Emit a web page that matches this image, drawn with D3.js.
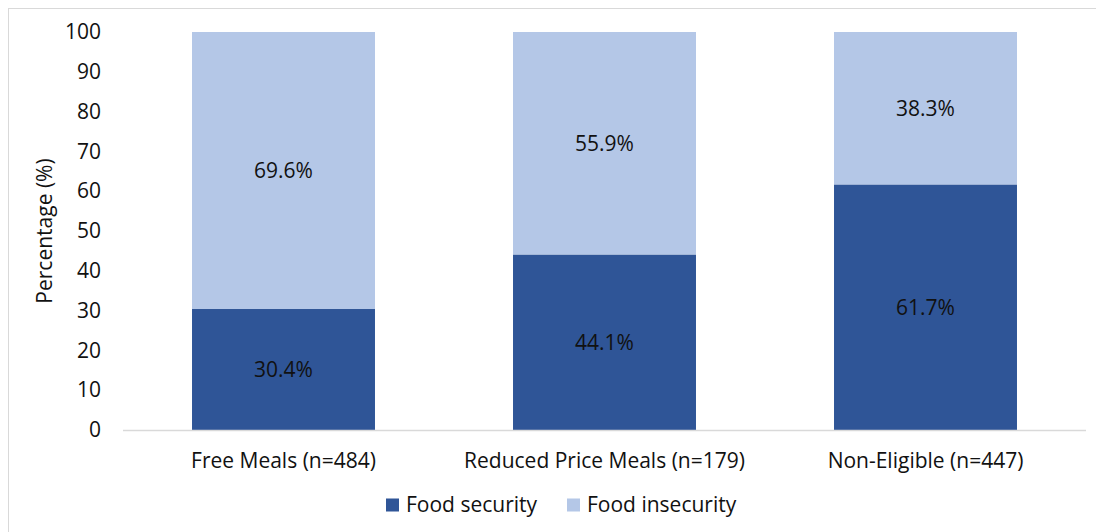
<!DOCTYPE html>
<html>
<head>
<meta charset="utf-8">
<script src="https://cdn.jsdelivr.net/npm/d3@7"></script>
<style>
  body { margin: 0; background: #fff; }
  svg text { font-family: "Open Sans", sans-serif; fill: #111; }
</style>
</head>
<body>
<div id="main-frame"></div>
<script>
const categories = ["Free Meals (n=484)", "Reduced Price Meals (n=179)", "Non-Eligible (n=447)"];
const seriesNames = ["Food security", "Food insecurity"];
const foodSecurity = [30.4, 44.1, 61.7];
const foodInsecurity = [69.6, 55.9, 38.3];
const yTicks = [0, 10, 20, 30, 40, 50, 60, 70, 80, 90, 100];
const colors = ["#2F5597", "#B4C7E7"];

const W = 1096, H = 532;
const margin = { top: 32, right: 10, bottom: 102, left: 123 };
const font = "'Open Sans', sans-serif";
const fs = "21px";

const svg = d3.select("#main-frame")
  .append("svg")
  .attr("width", W)
  .attr("height", H);

// outer chart border
svg.append("rect")
  .attr("x", 8.5).attr("y", 8.5)
  .attr("width", W + 20).attr("height", H + 20)
  .attr("fill", "none")
  .attr("stroke", "#d9d9d9");

const xScale = d3.scaleBand()
  .domain(categories)
  .range([margin.left, margin.left + 963])
  .paddingInner(0.43)
  .paddingOuter(0.215);

const yScale = d3.scaleLinear()
  .domain([0, 100])
  .range([H - margin.bottom, margin.top]);

const rows = categories.map((c, i) => ({ cat: c, "Food security": foodSecurity[i], "Food insecurity": foodInsecurity[i] }));
const stacked = d3.stack().keys(seriesNames)(rows);

const layers = svg.selectAll("g.layer")
  .data(stacked)
  .enter()
  .append("g")
  .attr("class", "layer")
  .attr("fill", (d, i) => colors[i]);

layers.selectAll("rect")
  .data(d => d)
  .enter()
  .append("rect")
  .attr("x", d => xScale(d.data.cat))
  .attr("y", d => yScale(d[1]))
  .attr("width", xScale.bandwidth())
  .attr("height", d => yScale(d[0]) - yScale(d[1]));

layers.selectAll("text")
  .data(d => d)
  .enter()
  .append("text")
  .attr("x", d => xScale(d.data.cat) + xScale.bandwidth() / 2)
  .attr("y", d => yScale((d[0] + d[1]) / 2))
  .attr("dy", "0.35em")
  .attr("text-anchor", "middle")
  .style("font-size", fs)
  .text(d => (d[1] - d[0]).toFixed(1) + "%");

// baseline
svg.append("line")
  .attr("x1", margin.left).attr("x2", margin.left + 963)
  .attr("y1", yScale(0) + 0.5).attr("y2", yScale(0) + 0.5)
  .attr("stroke", "#d9d9d9")
  .attr("stroke-width", 1.5);

// y axis
const yAxis = d3.axisLeft(yScale).tickValues(yTicks).tickSize(0).tickPadding(0);
const yg = svg.append("g")
  .attr("transform", "translate(101,0)")
  .call(yAxis);
yg.select(".domain").remove();
yg.selectAll("text").style("font-size", fs).style("font-family", font).attr("fill", "#111");

// x axis
const xAxis = d3.axisBottom(xScale).tickSize(0).tickPadding(0);
const xg = svg.append("g")
  .attr("transform", `translate(0,${yScale(0) + 23})`)
  .call(xAxis);
xg.select(".domain").remove();
xg.selectAll("text").style("font-size", fs).style("font-family", font).attr("fill", "#111");

// y title
svg.append("text")
  .attr("transform", `translate(52,${yScale(50)}) rotate(-90)`)
  .attr("text-anchor", "middle")
  .style("font-size", "21px")
  .text("Percentage (%)");

// legend
const legendX = [386, 567];
const legend = svg.selectAll("g.legend")
  .data(seriesNames)
  .enter()
  .append("g")
  .attr("class", "legend")
  .attr("transform", (d, i) => `translate(${legendX[i]},505)`);
legend.append("rect")
  .attr("x", 0).attr("y", -6.5)
  .attr("width", 13).attr("height", 13)
  .attr("fill", (d, i) => colors[i]);
legend.append("text")
  .attr("x", 20)
  .attr("dy", "0.35em")
  .style("font-size", fs)
  .text(d => d);
</script>
</body>
</html>
